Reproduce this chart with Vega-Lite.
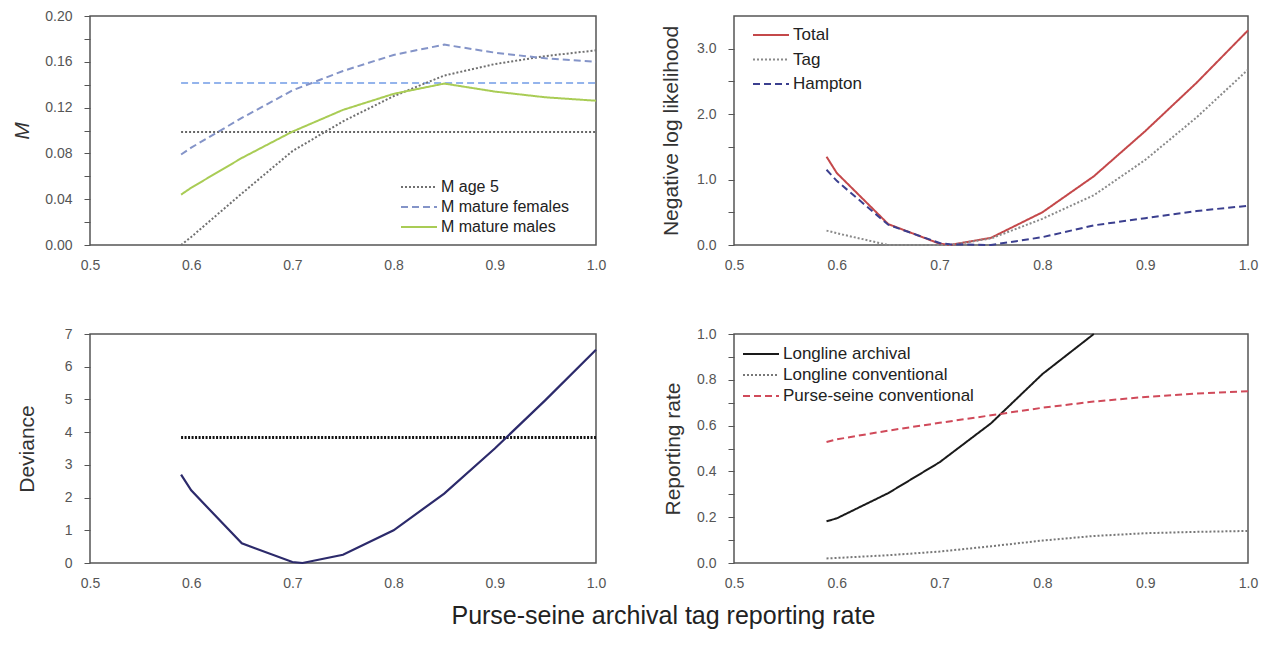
{
  "$schema": "https://vega.github.io/schema/vega-lite/v6.json",
  "background": "white",
  "padding": {"left": 10, "top": 8, "right": 5, "bottom": 5},
  "config": {
    "font": "Liberation Sans",
    "view": {"stroke": "#555", "strokeWidth": 1.5},
    "axis": {"domain": false, "grid": false, "labelFont": "Liberation Sans", "labelFontSize": 14, "labelColor": "#555", "tickColor": "#555", "titleFont": "Liberation Sans", "titleFontSize": 21, "titleFontWeight": "normal", "titleColor": "#333", "labelOverlap": false, "labelFlush": false},
    "axisX": {"ticks": false, "labelPadding": 13},
    "axisY": {"tickSize": 6, "labelPadding": 12, "titleBaseline": "alphabetic"},
    "legend": {"title": null, "labelFont": "Liberation Sans", "labelColor": "#222", "symbolType": "M-2,0H2", "symbolSize": 324, "symbolStrokeWidth": 2, "labelOffset": 12, "padding": 0, "labelLimit": 400},
    "line": {"clip": true}
  },
  "datasets": {
    "tl": [
      {"x": 0.59, "y": 0.0, "series": "M age 5"}, {"x": 0.6, "y": 0.007, "series": "M age 5"}, {"x": 0.65, "y": 0.045, "series": "M age 5"}, {"x": 0.7, "y": 0.082, "series": "M age 5"}, {"x": 0.75, "y": 0.108, "series": "M age 5"}, {"x": 0.8, "y": 0.13, "series": "M age 5"}, {"x": 0.85, "y": 0.148, "series": "M age 5"}, {"x": 0.9, "y": 0.158, "series": "M age 5"}, {"x": 0.95, "y": 0.165, "series": "M age 5"}, {"x": 1.0, "y": 0.17, "series": "M age 5"},
      {"x": 0.59, "y": 0.079, "series": "M mature females"}, {"x": 0.6, "y": 0.085, "series": "M mature females"}, {"x": 0.65, "y": 0.111, "series": "M mature females"}, {"x": 0.7, "y": 0.135, "series": "M mature females"}, {"x": 0.75, "y": 0.152, "series": "M mature females"}, {"x": 0.8, "y": 0.166, "series": "M mature females"}, {"x": 0.85, "y": 0.175, "series": "M mature females"}, {"x": 0.9, "y": 0.168, "series": "M mature females"}, {"x": 0.95, "y": 0.163, "series": "M mature females"}, {"x": 1.0, "y": 0.16, "series": "M mature females"},
      {"x": 0.59, "y": 0.044, "series": "M mature males"}, {"x": 0.6, "y": 0.05, "series": "M mature males"}, {"x": 0.65, "y": 0.076, "series": "M mature males"}, {"x": 0.7, "y": 0.099, "series": "M mature males"}, {"x": 0.75, "y": 0.118, "series": "M mature males"}, {"x": 0.8, "y": 0.132, "series": "M mature males"}, {"x": 0.85, "y": 0.141, "series": "M mature males"}, {"x": 0.9, "y": 0.134, "series": "M mature males"}, {"x": 0.95, "y": 0.129, "series": "M mature males"}, {"x": 1.0, "y": 0.126, "series": "M mature males"}
    ],
    "tlref": [
      {"x": 0.59, "y": 0.0986}, {"x": 1.0, "y": 0.0986}
    ],
    "tlref2": [
      {"x": 0.59, "y": 0.1414}, {"x": 1.0, "y": 0.1414}
    ],
    "tr": [
      {"x": 0.59, "y": 1.35, "series": "Total"}, {"x": 0.6, "y": 1.1, "series": "Total"}, {"x": 0.65, "y": 0.32, "series": "Total"}, {"x": 0.7, "y": 0.02, "series": "Total"}, {"x": 0.71, "y": 0.0, "series": "Total"}, {"x": 0.75, "y": 0.11, "series": "Total"}, {"x": 0.8, "y": 0.5, "series": "Total"}, {"x": 0.85, "y": 1.05, "series": "Total"}, {"x": 0.9, "y": 1.74, "series": "Total"}, {"x": 0.95, "y": 2.48, "series": "Total"}, {"x": 1.0, "y": 3.28, "series": "Total"},
      {"x": 0.59, "y": 0.22, "series": "Tag"}, {"x": 0.6, "y": 0.18, "series": "Tag"}, {"x": 0.65, "y": 0.0, "series": "Tag"}, {"x": 0.7, "y": 0.0, "series": "Tag"}, {"x": 0.71, "y": 0.0, "series": "Tag"}, {"x": 0.75, "y": 0.1, "series": "Tag"}, {"x": 0.8, "y": 0.4, "series": "Tag"}, {"x": 0.85, "y": 0.76, "series": "Tag"}, {"x": 0.9, "y": 1.3, "series": "Tag"}, {"x": 0.95, "y": 1.95, "series": "Tag"}, {"x": 1.0, "y": 2.68, "series": "Tag"},
      {"x": 0.59, "y": 1.15, "series": "Hampton"}, {"x": 0.6, "y": 0.98, "series": "Hampton"}, {"x": 0.65, "y": 0.31, "series": "Hampton"}, {"x": 0.7, "y": 0.03, "series": "Hampton"}, {"x": 0.71, "y": 0.01, "series": "Hampton"}, {"x": 0.75, "y": 0.0, "series": "Hampton"}, {"x": 0.8, "y": 0.12, "series": "Hampton"}, {"x": 0.85, "y": 0.3, "series": "Hampton"}, {"x": 0.9, "y": 0.41, "series": "Hampton"}, {"x": 0.95, "y": 0.52, "series": "Hampton"}, {"x": 1.0, "y": 0.6, "series": "Hampton"}
    ],
    "bl": [
      {"x": 0.59, "y": 2.7}, {"x": 0.6, "y": 2.22}, {"x": 0.65, "y": 0.6}, {"x": 0.7, "y": 0.03}, {"x": 0.71, "y": 0.0}, {"x": 0.75, "y": 0.25}, {"x": 0.8, "y": 1.0}, {"x": 0.85, "y": 2.12}, {"x": 0.9, "y": 3.5}, {"x": 0.95, "y": 4.98}, {"x": 1.0, "y": 6.52}
    ],
    "blref": [
      {"x": 0.59, "y": 3.84}, {"x": 1.0, "y": 3.84}
    ],
    "br": [
      {"x": 0.59, "y": 0.182, "series": "Longline archival"}, {"x": 0.6, "y": 0.195, "series": "Longline archival"}, {"x": 0.65, "y": 0.305, "series": "Longline archival"}, {"x": 0.7, "y": 0.44, "series": "Longline archival"}, {"x": 0.75, "y": 0.61, "series": "Longline archival"}, {"x": 0.8, "y": 0.825, "series": "Longline archival"}, {"x": 0.85, "y": 1.0, "series": "Longline archival"},
      {"x": 0.59, "y": 0.02, "series": "Longline conventional"}, {"x": 0.6, "y": 0.022, "series": "Longline conventional"}, {"x": 0.65, "y": 0.034, "series": "Longline conventional"}, {"x": 0.7, "y": 0.05, "series": "Longline conventional"}, {"x": 0.75, "y": 0.073, "series": "Longline conventional"}, {"x": 0.8, "y": 0.098, "series": "Longline conventional"}, {"x": 0.85, "y": 0.118, "series": "Longline conventional"}, {"x": 0.9, "y": 0.13, "series": "Longline conventional"}, {"x": 0.95, "y": 0.136, "series": "Longline conventional"}, {"x": 1.0, "y": 0.14, "series": "Longline conventional"},
      {"x": 0.59, "y": 0.528, "series": "Purse-seine conventional"}, {"x": 0.6, "y": 0.54, "series": "Purse-seine conventional"}, {"x": 0.65, "y": 0.578, "series": "Purse-seine conventional"}, {"x": 0.7, "y": 0.612, "series": "Purse-seine conventional"}, {"x": 0.75, "y": 0.645, "series": "Purse-seine conventional"}, {"x": 0.8, "y": 0.678, "series": "Purse-seine conventional"}, {"x": 0.85, "y": 0.705, "series": "Purse-seine conventional"}, {"x": 0.9, "y": 0.725, "series": "Purse-seine conventional"}, {"x": 0.95, "y": 0.74, "series": "Purse-seine conventional"}, {"x": 1.0, "y": 0.75, "series": "Purse-seine conventional"}
    ]
  },
  "title": {"text": "Purse-seine archival tag reporting rate", "orient": "bottom", "anchor": "middle", "fontSize": 25, "fontWeight": "normal", "color": "#222", "font": "Liberation Sans", "offset": 13, "dx": 29},
  "bounds": "flush",
  "columns": 2,
  "spacing": {"row": 89, "column": 138},
  "resolve": {"scale": {"color": "independent", "strokeDash": "independent", "x": "independent", "y": "independent"}, "legend": {"color": "independent", "strokeDash": "independent"}},
  "concat": [
    {
      "width": 506, "height": 229,
      "encoding": {
        "x": {"field": "x", "type": "quantitative", "scale": {"domain": [0.5, 1.0], "nice": false, "zero": false}, "axis": {"title": null, "values": [0.5, 0.6, 0.7, 0.8, 0.9, 1.0], "format": ".1f"}},
        "y": {"field": "y", "type": "quantitative", "scale": {"domain": [0, 0.2], "nice": false}, "axis": {"title": "M", "titleFontStyle": "italic", "titleX": -62, "values": [0, 0.02, 0.04, 0.06, 0.08, 0.1, 0.12, 0.14, 0.16, 0.18, 0.2], "labelExpr": "round(datum.value*100) % 4 == 0 ? format(datum.value, '.2f') : ''"}}
      },
      "layer": [
        {
          "data": {"name": "tlref"},
          "mark": {"type": "line", "color": "#666", "strokeDash": [2, 2], "strokeWidth": 2}
        },
        {
          "data": {"name": "tlref2"},
          "mark": {"type": "line", "color": "#94b4ec", "strokeDash": [7, 4], "strokeWidth": 2}
        },
        {
          "data": {"name": "tl"},
          "mark": {"type": "line", "strokeWidth": 2},
          "encoding": {
            "color": {"field": "series", "type": "nominal", "scale": {"domain": ["M age 5", "M mature females", "M mature males"], "range": ["#707070", "#8494c8", "#a9cc55"]}, "legend": {"orient": "none", "legendX": 319, "legendY": 161, "labelFontSize": 16, "rowPadding": 2}},
            "strokeDash": {"field": "series", "type": "nominal", "scale": {"domain": ["M age 5", "M mature females", "M mature males"], "range": [[2, 2], [7, 4], [1, 0]]}, "legend": {"orient": "none", "legendX": 319, "legendY": 161, "labelFontSize": 16, "rowPadding": 2}}
          }
        }
      ]
    },
    {
      "width": 514, "height": 229,
      "data": {"name": "tr"},
      "mark": {"type": "line", "strokeWidth": 2},
      "encoding": {
        "x": {"field": "x", "type": "quantitative", "scale": {"domain": [0.5, 1.0], "nice": false, "zero": false}, "axis": {"title": null, "values": [0.5, 0.6, 0.7, 0.8, 0.9, 1.0], "format": ".1f"}},
        "y": {"field": "y", "type": "quantitative", "scale": {"domain": [0, 3.5], "nice": false}, "axis": {"title": "Negative log likelihood", "titleX": -57, "values": [0, 0.5, 1, 1.5, 2, 2.5, 3], "labelExpr": "datum.value % 1 == 0 ? format(datum.value, '.1f') : ''"}},
        "color": {"field": "series", "type": "nominal", "scale": {"domain": ["Total", "Tag", "Hampton"], "range": ["#c4484a", "#8a8a8a", "#3b3f8f"]}, "legend": {"orient": "none", "legendX": 27, "legendY": 9, "labelFontSize": 17, "rowPadding": 6.5}},
        "strokeDash": {"field": "series", "type": "nominal", "scale": {"domain": ["Total", "Tag", "Hampton"], "range": [[1, 0], [2, 2], [7, 4]]}, "legend": {"orient": "none", "legendX": 27, "legendY": 9, "labelFontSize": 17, "rowPadding": 6.5}}
      }
    },
    {
      "width": 506, "height": 229,
      "encoding": {
        "x": {"field": "x", "type": "quantitative", "scale": {"domain": [0.5, 1.0], "nice": false, "zero": false}, "axis": {"title": null, "values": [0.5, 0.6, 0.7, 0.8, 0.9, 1.0], "format": ".1f"}},
        "y": {"field": "y", "type": "quantitative", "scale": {"domain": [0, 7], "nice": false}, "axis": {"title": "Deviance", "titleX": -57, "values": [0, 1, 2, 3, 4, 5, 6, 7], "format": "d"}}
      },
      "layer": [
        {
          "data": {"name": "blref"},
          "mark": {"type": "line", "color": "#111", "strokeDash": [2, 1.5], "strokeWidth": 3}
        },
        {
          "data": {"name": "bl"},
          "mark": {"type": "line", "color": "#2c2a6b", "strokeWidth": 2.2}
        }
      ]
    },
    {
      "width": 514, "height": 229,
      "data": {"name": "br"},
      "mark": {"type": "line", "strokeWidth": 2},
      "encoding": {
        "x": {"field": "x", "type": "quantitative", "scale": {"domain": [0.5, 1.0], "nice": false, "zero": false}, "axis": {"title": null, "values": [0.5, 0.6, 0.7, 0.8, 0.9, 1.0], "format": ".1f"}},
        "y": {"field": "y", "type": "quantitative", "scale": {"domain": [0, 1], "nice": false}, "axis": {"title": "Reporting rate", "titleX": -55, "values": [0, 0.1, 0.2, 0.3, 0.4, 0.5, 0.6, 0.7, 0.8, 0.9, 1.0], "labelExpr": "round(datum.value*10) % 2 == 0 ? format(datum.value, '.1f') : ''"}},
        "color": {"field": "series", "type": "nominal", "scale": {"domain": ["Longline archival", "Longline conventional", "Purse-seine conventional"], "range": ["#1a1a1a", "#777777", "#d04a5a"]}, "legend": {"orient": "none", "legendX": 17, "legendY": 10, "labelFontSize": 17, "rowPadding": 3}},
        "strokeDash": {"field": "series", "type": "nominal", "scale": {"domain": ["Longline archival", "Longline conventional", "Purse-seine conventional"], "range": [[1, 0], [2, 2], [7, 4]]}, "legend": {"orient": "none", "legendX": 17, "legendY": 10, "labelFontSize": 17, "rowPadding": 3}}
      }
    }
  ]
}
